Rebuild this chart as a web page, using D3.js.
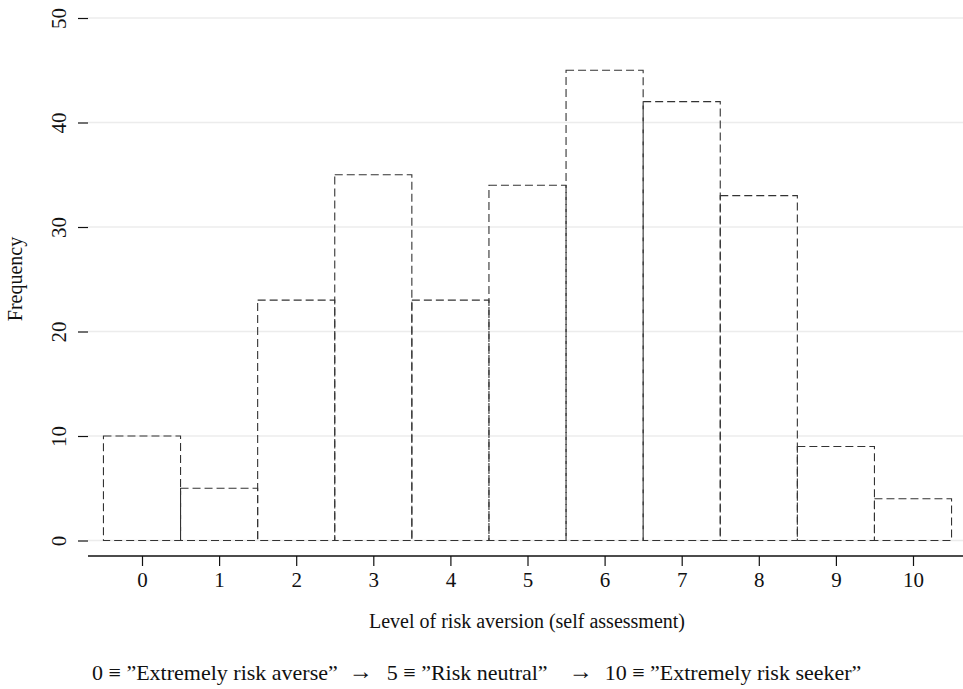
<!DOCTYPE html>
<html><head><meta charset="utf-8">
<script src="https://cdn.jsdelivr.net/npm/d3@7"></script>
<style>
body{margin:0;background:#fff;}
text{font-family:"Liberation Serif","DejaVu Serif",serif;fill:#111;}
</style></head>
<body><svg id="c" width="963" height="689"></svg>
<script>
const categories = [0,1,2,3,4,5,6,7,8,9,10];
const frequencies = [10,5,23,35,23,34,45,42,33,9,4];
const yTicks = [0,10,20,30,40,50];
const xLabel = "Level of risk aversion (self assessment)";
const yLabel = "Frequency";
const noteParts = ['0 \u2261 \u201dExtremely risk averse\u201d', '5 \u2261 \u201dRisk neutral\u201d', '10 \u2261 \u201dExtremely risk seeker\u201d'];

const svg = d3.select("#c");
const x = d3.scaleLinear().domain([0,10]).range([142,913]);
const y = d3.scaleLinear().domain([0,50]).range([540.5,18]);
const FS = "21px";

// gridlines
svg.append("g").selectAll("line").data(yTicks).join("line")
  .attr("x1",88).attr("x2",963).attr("y1",d=>y(d)).attr("y2",d=>y(d))
  .attr("stroke","#ececec").attr("stroke-width",1.6);

// y axis (ticks only)
const yAxis = svg.append("g").attr("transform","translate(88,0)")
  .call(d3.axisLeft(y).tickValues(yTicks).tickSize(10).tickPadding(0).tickFormat(d3.format("d")));
yAxis.select(".domain").remove();
yAxis.selectAll(".tick line").attr("stroke","#111").attr("stroke-width",1.2);
yAxis.selectAll(".tick text").attr("transform","rotate(-90)").attr("x",0).attr("y",-29)
  .attr("dy",null).attr("dominant-baseline","central").attr("text-anchor","middle").style("font-size",FS)
  .style("font-family","'Liberation Serif',serif").attr("fill","#111");

// bars
svg.append("g").selectAll("rect").data(categories).join("rect")
  .attr("x",(d)=>x(d-0.5)).attr("width",(d)=>x(d+0.5)-x(d-0.5))
  .attr("y",(d,i)=>y(frequencies[i])).attr("height",(d,i)=>y(0)-y(frequencies[i]))
  .attr("fill","none").attr("stroke","#333").attr("stroke-width",1.1)
  .attr("stroke-dasharray","8,4");

// x axis
const xAxis = svg.append("g").attr("transform","translate(0,556)")
  .call(d3.axisBottom(x).tickValues(categories).tickSize(10).tickPadding(6).tickSizeOuter(0).tickFormat(d3.format("d")));
xAxis.select(".domain").attr("d","M88,0H963").attr("stroke","#111").attr("stroke-width",1.3);
xAxis.selectAll(".tick line").attr("stroke","#111").attr("stroke-width",1.2);
xAxis.selectAll(".tick text").style("font-size",FS).style("font-family","'Liberation Serif',serif").attr("fill","#111");

svg.append("text").attr("x",527).attr("y",628).attr("text-anchor","middle")
  .style("font-size","20px").text(xLabel);
svg.append("text").attr("transform","translate(22,279) rotate(-90)").attr("text-anchor","middle")
  .style("font-size","20px").text(yLabel);

// note line laid out in segments
const noteY = 680, startX = 92, arrowW = 20;
const segs = noteParts.map(t => svg.append("text").attr("y",noteY).style("font-size","22px").text(t));
const widths = segs.map(s => s.node().getComputedTextLength());
let cx = startX;
const arrows = [];
segs[0].attr("x",cx); cx += widths[0] + 13;
arrows.push(cx); cx += arrowW + 16;
segs[1].attr("x",cx); cx += widths[1] + 23;
arrows.push(cx); cx += arrowW + 14;
segs[2].attr("x",cx);
svg.append("g").selectAll("text").data(arrows).join("text")
  .attr("x",d=>d+arrowW/2).attr("y",noteY-1).attr("text-anchor","middle")
  .style("font-family","'Liberation Serif','DejaVu Serif',serif").style("font-size","24px")
  .text("\u2192");
</script></body></html>
